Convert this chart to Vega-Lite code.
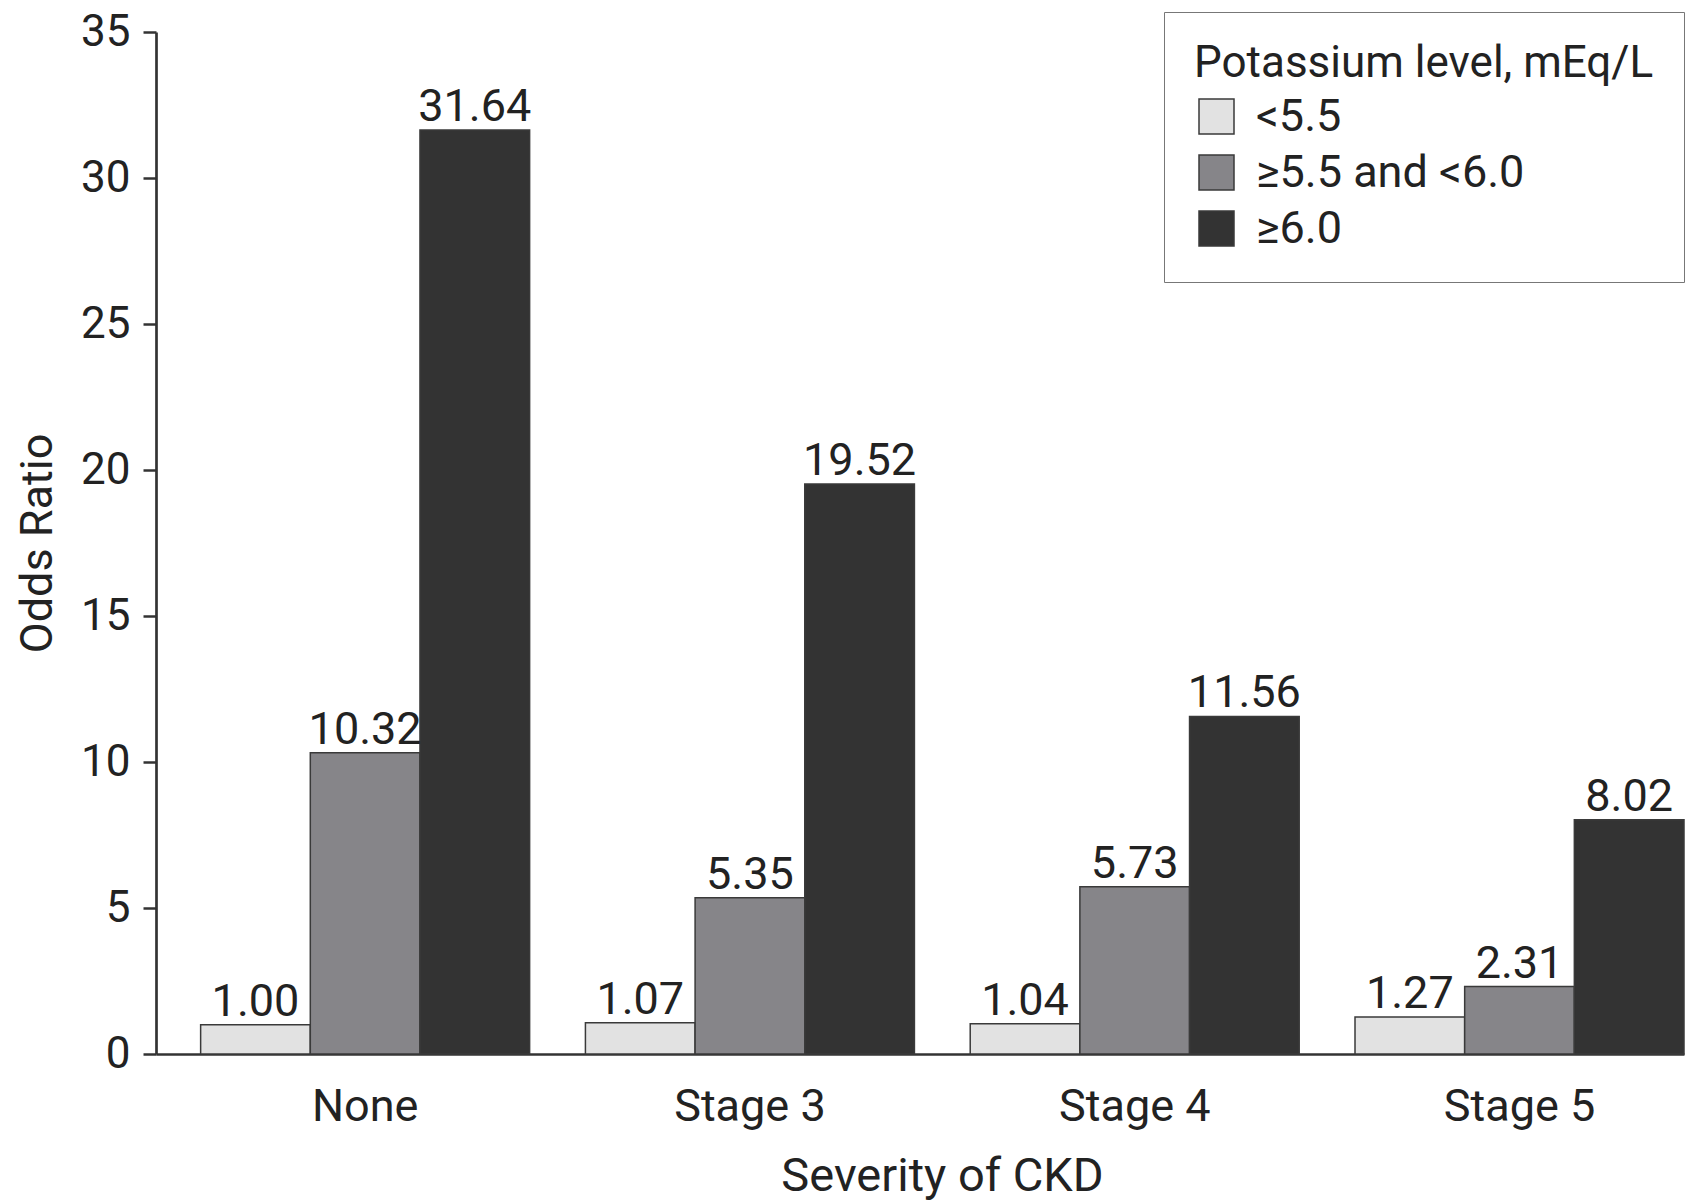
{
  "$schema": "https://vega.github.io/schema/vega-lite/v6.json",
  "autosize": {"type": "none"},
  "padding": {"left": 156, "top": 32, "right": 6, "bottom": 148},
  "width": 1528,
  "height": 1022,
  "background": "white",
  "config": {
    "font": "Liberation Sans Narrow, Roboto, sans-serif",
    "view": {"stroke": null}
  },
  "data": {
    "values": [
      {"severity": "None", "potassium": "<5.5", "oddsRatio": 1.00, "label": "1.00"},
      {"severity": "None", "potassium": "≥5.5 and <6.0", "oddsRatio": 10.32, "label": "10.32"},
      {"severity": "None", "potassium": "≥6.0", "oddsRatio": 31.64, "label": "31.64"},
      {"severity": "Stage 3", "potassium": "<5.5", "oddsRatio": 1.07, "label": "1.07"},
      {"severity": "Stage 3", "potassium": "≥5.5 and <6.0", "oddsRatio": 5.35, "label": "5.35"},
      {"severity": "Stage 3", "potassium": "≥6.0", "oddsRatio": 19.52, "label": "19.52"},
      {"severity": "Stage 4", "potassium": "<5.5", "oddsRatio": 1.04, "label": "1.04"},
      {"severity": "Stage 4", "potassium": "≥5.5 and <6.0", "oddsRatio": 5.73, "label": "5.73"},
      {"severity": "Stage 4", "potassium": "≥6.0", "oddsRatio": 11.56, "label": "11.56"},
      {"severity": "Stage 5", "potassium": "<5.5", "oddsRatio": 1.27, "label": "1.27"},
      {"severity": "Stage 5", "potassium": "≥5.5 and <6.0", "oddsRatio": 2.31, "label": "2.31"},
      {"severity": "Stage 5", "potassium": "≥6.0", "oddsRatio": 8.02, "label": "8.02"}
    ]
  },
  "encoding": {
    "x": {
      "field": "severity",
      "type": "nominal",
      "sort": ["None", "Stage 3", "Stage 4", "Stage 5"],
      "scale": {"paddingInner": 0.145, "paddingOuter": 0.058, "align": 1},
      "axis": {
        "title": "Severity of CKD",
        "labelAngle": 0,
        "labelFontSize": 45,
        "labelColor": "#222222",
        "labelPadding": 30,
        "ticks": false,
        "domainColor": "#333333",
        "domainWidth": 2.7,
        "titleFontSize": 47,
        "titleFontWeight": "normal",
        "titleColor": "#222222",
        "titleX": 786,
        "titleY": 136,
        "titleBaseline": "alphabetic"
      }
    },
    "xOffset": {
      "field": "potassium",
      "type": "nominal",
      "sort": ["<5.5", "≥5.5 and <6.0", "≥6.0"],
      "scale": {"paddingInner": 0, "paddingOuter": 0}
    },
    "y": {
      "field": "oddsRatio",
      "type": "quantitative",
      "scale": {"domain": [0, 35], "nice": false, "zero": true},
      "axis": {
        "title": "Odds Ratio",
        "values": [0, 5, 10, 15, 20, 25, 30, 35],
        "grid": false,
        "labelFontSize": 44,
        "labelColor": "#222222",
        "labelPadding": 13,
        "tickSize": 13,
        "tickColor": "#333333",
        "tickWidth": 2.5,
        "domainColor": "#333333",
        "domainWidth": 2.7,
        "titleFontSize": 45,
        "titleFontWeight": "normal",
        "titleColor": "#222222",
        "titleX": -119,
        "titleBaseline": "middle"
      }
    }
  },
  "layer": [
    {
      "mark": {"type": "bar", "stroke": "#3a3a3a", "strokeWidth": 1.5},
      "encoding": {
        "color": {
          "field": "potassium",
          "type": "nominal",
          "sort": ["<5.5", "≥5.5 and <6.0", "≥6.0"],
          "scale": {
            "domain": ["<5.5", "≥5.5 and <6.0", "≥6.0"],
            "range": ["#e2e2e2", "#868589", "#333333"]
          },
          "legend": {
            "title": "Potassium level, mEq/L",
            "orient": "none",
            "legendX": 1008,
            "legendY": -20,
            "padding": 30,
            "strokeColor": "#777777",
            "fillColor": "white",
            "titleFontSize": 44,
            "titleFontWeight": "normal",
            "titleColor": "#222222",
            "titlePadding": 8,
            "titleLimit": 700,
            "labelFontSize": 45,
            "labelColor": "#222222",
            "labelOffset": 17,
            "symbolType": "square",
            "symbolSize": 1225,
            "symbolStrokeColor": "#3a3a3a",
            "symbolStrokeWidth": 1.5,
            "rowPadding": 10,
            "labelLimit": 600
          }
        }
      }
    },
    {
      "mark": {"type": "text", "baseline": "alphabetic", "dy": -9, "fontSize": 45, "color": "#222222"},
      "encoding": {
        "text": {"field": "label"}
      }
    }
  ]
}
